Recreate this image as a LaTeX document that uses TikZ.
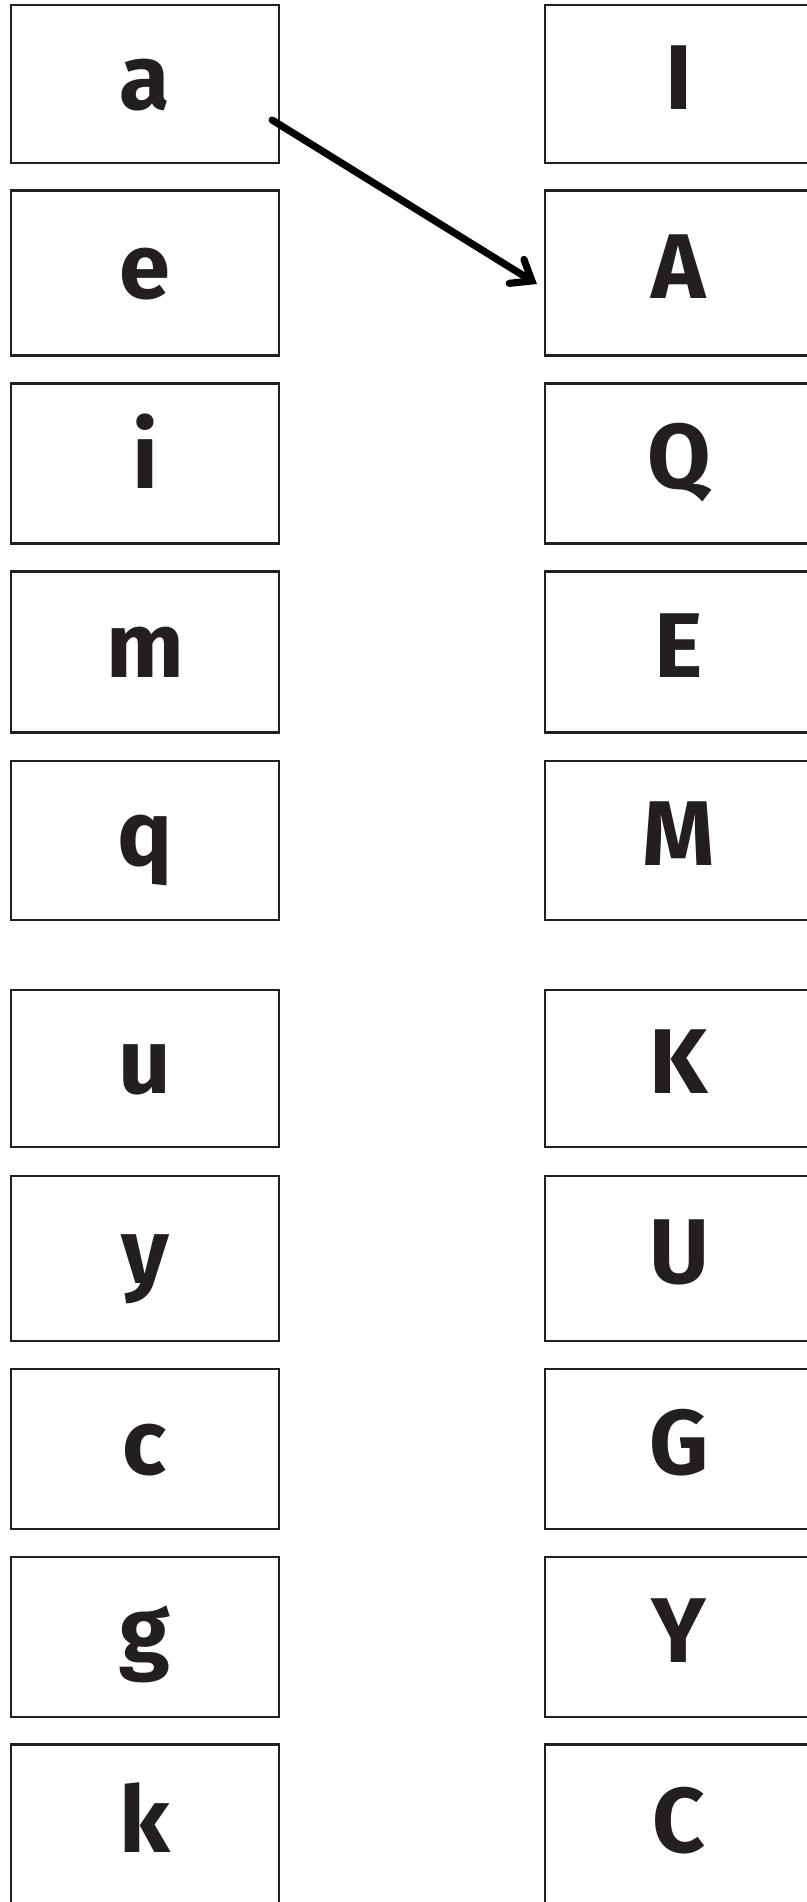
\documentclass[tikz,border=0pt]{standalone}
\usepackage{fontspec}
\setmainfont{Fira Sans}
\usepackage{xcolor}
\usepackage{tikz}
\usetikzlibrary{arrows.meta,positioning,calc}
\definecolor{ink}{HTML}{231F20}

\begin{document}
\begin{tikzpicture}[
  card/.style={draw=ink, line width=1.1pt, minimum width=134pt, inner sep=0pt,
    text height=25pt, text depth=0pt, text=ink,
    font=\fontsize{46}{50}\selectfont\bfseries},
  link/.style={draw=black, line width=3.6pt, line cap=round,
    -{Straight Barb[length=9pt,width=14pt,line cap=round]}},
  x=0.5pt,y=-0.5pt
]
\useasboundingbox (0,0) rectangle (807,1902);
\clip (0,0) rectangle (807,1902);
% small letters
\node[card, minimum height=79pt] (l-a) at (145,84) {a};
\node[card, minimum height=82.5pt] (l-e) at (145,273) {e};
\node[card, minimum height=80pt] (l-i) at (145,463.5) {i};
\node[card, minimum height=80.5pt] (l-m) at (145,652) {m};
\node[card, minimum height=79.5pt] (l-q) at (145,840.5) {q};
\node[card, minimum height=78.5pt] (l-u) at (145,1068.5) {u};
\node[card, minimum height=82.5pt] (l-y) at (145,1258.5) {y};
\node[card, minimum height=80pt] (l-c) at (145,1449) {c};
\node[card, minimum height=80pt] (l-g) at (145,1637) {g};
\node[card, minimum height=82.5pt] (l-k) at (145,1827) {k};
% capitals
\node[card, minimum height=79pt] (r-I) at (679,84) {I};
\node[card, minimum height=82.5pt] (r-A) at (679,273) {A};
\node[card, minimum height=80pt] (r-Q) at (679,463.5) {Q};
\node[card, minimum height=80.5pt] (r-E) at (679,652) {E};
\node[card, minimum height=79.5pt] (r-M) at (679,840.5) {M};
\node[card, minimum height=78.5pt] (r-K) at (679,1068.5) {K};
\node[card, minimum height=82.5pt] (r-U) at (679,1258.5) {U};
\node[card, minimum height=80pt] (r-G) at (679,1449) {G};
\node[card, minimum height=80pt] (r-Y) at (679,1637) {Y};
\node[card, minimum height=82.5pt] (r-C) at (679,1827) {C};
% the one match
\draw[link] ([shift={(-8,36)}]l-a.east) -- ([shift={(-7,11)}]r-A.west);
\end{tikzpicture}
\end{document}
